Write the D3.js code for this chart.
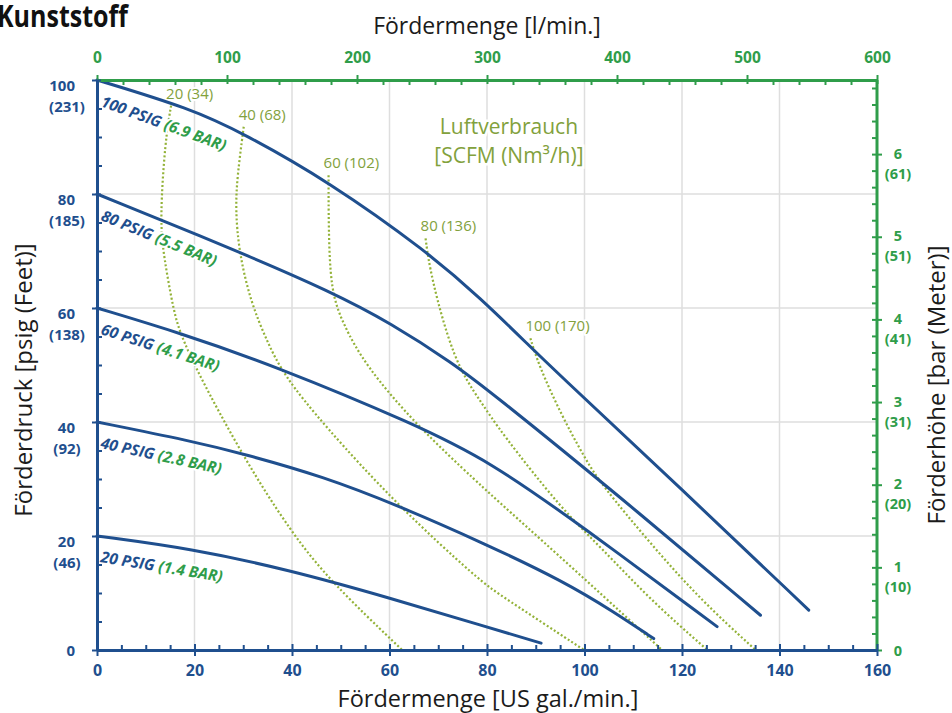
<!DOCTYPE html>
<html><head><meta charset="utf-8">
<script src="https://cdn.jsdelivr.net/npm/d3@7"></script>
<style>body{margin:0;background:#fff;} svg{display:block;font-family:"Open Sans",sans-serif;}</style>
</head><body><svg id="chart" width="952" height="713"></svg>
<script>
// ---------- data ----------
const xTicks = [0,20,40,60,80,100,120,140,160];
const xTopTicks = [0,100,200,300,400,500,600];
const yTicks = [0,20,40,60,80,100];
const yFeet = ["","(46)","(92)","(138)","(185)","(231)"];
const rightTicks = [0,1,2,3,4,5,6];
const rightMeters = ["","(10)","(20)","(31)","(41)","(51)","(61)"];

const psigLevels = [100,80,60,40,20];
const barLevels = ["6.9","5.5","4.1","2.8","1.4"];
const flow100 = [[0,100],[19.2,95],[30.1,90.6],[47.5,82.2],[67.7,69.9],[78.7,61.7],[88.9,53.2],[92.7,50],[119.7,28.4],[146,7]];
const flow80  = [[0,80],[29.1,69.9],[47.9,62.9],[60.2,57.4],[73.2,50.2],[80.7,45.3],[106,27.8],[136.1,6.1]];
const flow60  = [[0,60],[17.1,55.6],[36,50],[65.3,39.6],[80.7,33.0],[99.2,21.9],[127.2,4.1]];
const flow40  = [[0,40],[19.2,36.7],[30.1,34.4],[46.5,30.4],[61.6,25.4],[79.7,18.6],[95.8,12],[106,6.7],[114.2,2]];
const flow20  = [[0,20],[19.2,17.8],[39.7,14],[60.2,9.1],[79.7,4.1],[91.1,1.2]];

const airScfm = [20,40,60,80,100];
const airNm3 = [34,68,102,136,170];
const air20  = [[15.2,95.5],[14,89.5],[12.9,75.4],[13.7,69],[15.8,59.1],[17.1,55.6],[20.2,49.4],[30.1,33.7],[39.7,20.8],[47.9,12],[62.6,0]];
const air40  = [[30.1,91.8],[28.8,83.3],[28.4,77.5],[29.1,69.9],[31.5,61.1],[34.9,54.1],[38.3,48.2],[46.5,39.5],[61.6,25.4],[78.7,12],[82.8,9.6],[99.9,0]];
const air60  = [[47.5,83.3],[47.5,74.6],[47.9,62.9],[50.6,57],[55,50],[65.3,39.6],[78.7,28.9],[82.8,25.7],[99.9,12.6],[115.9,0]];
const air80  = [[67.4,72.2],[68.4,65.8],[73.2,50.6],[78.7,43.6],[82.8,38.3],[95.4,24.6],[103.3,18.1],[113.5,8.8],[125.2,0]];
const air100 = [[88.9,54.7],[90.6,50],[95.1,41.5],[99.9,33.9],[103.3,29.2],[113.5,18.7],[123.8,8.8],[135.1,0]];

// ---------- setup ----------
const blue="#1f4f8e", green="#2f9d4a", olive="#82a13c", dotc="#93b238", gridc="#dedede", dark="#1b1b1b";
const svg = d3.select("#chart");
const x = d3.scaleLinear().domain([0,160]).range([97,877]);
const y = d3.scaleLinear().domain([0,100]).range([650,80]);
const xTop = d3.scaleLinear().domain([0,600]).range([97,877]);
const yBar = d3.scaleLinear().domain([0,100/14.5]).range([650,80]);

// grid
const gGrid = svg.append("g");
gGrid.selectAll("line.v").data(xTicks.filter(d=>d>0&&d<160)).join("line")
  .attr("x1",d=>x(d)).attr("x2",d=>x(d)).attr("y1",y(0)).attr("y2",y(100))
  .attr("stroke",gridc).attr("stroke-width",1.5);
gGrid.selectAll("line.h").data(yTicks.filter(d=>d>0&&d<100)).join("line")
  .attr("y1",d=>y(d)).attr("y2",d=>y(d)).attr("x1",x(0)).attr("x2",x(160))
  .attr("stroke",gridc).attr("stroke-width",1.5);

const flowLine = d3.line().x(d=>x(d[0])).y(d=>y(d[1])).curve(d3.curveBasis);
const airLine = d3.line().x(d=>x(d[0])).y(d=>y(d[1])).curve(d3.curveBasis);

// air consumption dotted lines
const airLines = [air20,air40,air60,air80,air100];
svg.append("g").selectAll("path").data(airLines).join("path")
  .attr("d",airLine).attr("fill","none").attr("stroke",dotc).attr("stroke-width",2.2)
  .attr("stroke-dasharray","2 2.2");

// air labels
svg.append("g").selectAll("text").data(airLines).join("text")
  .attr("x",d=>x(d[0][0])-5).attr("y",d=>y(d[0][1])-7)
  .attr("font-size",15).attr("fill",olive)
  .attr("stroke","#fff").attr("stroke-width",4).attr("paint-order","stroke").attr("stroke-linejoin","round")
  .text((d,i)=>`${airScfm[i]} (${airNm3[i]})`);

// Luftverbrauch annotation
const gAnn = svg.append("g").attr("fill",olive).attr("font-size",21).attr("text-anchor","middle")
  .attr("stroke","#fff").attr("stroke-width",5).attr("paint-order","stroke");
gAnn.append("text").attr("x",x(84.5)).attr("y",y(90.5)).text("Luftverbrauch");
gAnn.append("text").attr("x",x(84.5)).attr("y",y(85.4)).text("[SCFM (Nm³/h)]");

// pressure labels
const flows = [flow100,flow80,flow60,flow40,flow20];
function psiAt(c,g){ for(let i=1;i<c.length;i++){ if(c[i][0]>=g){ const a=c[i-1],b=c[i]; return a[1]+(b[1]-a[1])*(g-a[0])/(b[0]-a[0]); } } return c[c.length-1][1]; }
const gLab = svg.append("g").attr("font-size",15.5).attr("font-weight","bold").attr("font-style","italic");
flows.forEach((c,i)=>{
  const ang = Math.atan2(y(psiAt(c,30))-y(c[0][1]), x(30)-x(0))*180/Math.PI;
  const tx = x(0)+3, ty = y(c[0][1])+26;
  const t = gLab.append("text").attr("transform",`translate(${tx},${ty}) rotate(${ang})`)
    .attr("stroke","#fff").attr("stroke-width",4).attr("paint-order","stroke").attr("stroke-linejoin","round");
  t.append("tspan").attr("fill",blue).text(`${psigLevels[i]} PSIG `);
  t.append("tspan").attr("fill",green).text(`(${barLevels[i]} BAR)`);
});

// pressure curves
svg.append("g").selectAll("path").data(flows).join("path")
  .attr("d",flowLine).attr("fill","none").attr("stroke",blue).attr("stroke-width",3).attr("stroke-linecap","round");

// ---------- axes ----------
function style(g,color,fs){
  g.attr("font-family","'Open Sans',sans-serif").attr("font-size",fs).attr("font-weight","bold");
  g.select(".domain").attr("stroke",color).attr("stroke-width",3);
  g.selectAll(".tick line").attr("stroke",color).attr("stroke-width",2);
  g.selectAll(".tick text").attr("fill",color);
}
const range = (a,b,s)=>d3.range(a,b+1e-9,s);

// top (green)
const gTopMin = svg.append("g").attr("transform",`translate(0,${y(100)})`)
  .call(d3.axisTop(xTop).tickValues(range(0,600,20).filter(v=>v%100)).tickSize(-5).tickSizeOuter(0).tickFormat(""));
gTopMin.select(".domain").remove(); gTopMin.selectAll(".tick line").attr("stroke",green).attr("stroke-width",2);
const gTop = svg.append("g").attr("transform",`translate(0,${y(100)})`)
  .call(d3.axisTop(xTop).tickValues(xTopTicks).tickSize(5).tickSizeOuter(0).tickPadding(12).tickFormat(d3.format("d")));
gTop.selectAll(".tick line").attr("y1",4);
style(gTop,green,15.5);

// right (green)
const gRMin = svg.append("g").attr("transform",`translate(${x(160)},0)`)
  .call(d3.axisRight(yBar).tickValues(range(0,6.8,0.2).filter(v=>Math.abs(v-Math.round(v))>0.01)).tickSize(-5).tickSizeOuter(0).tickFormat(""));
gRMin.select(".domain").remove(); gRMin.selectAll(".tick line").attr("stroke",green).attr("stroke-width",2);
const gR = svg.append("g").attr("transform",`translate(${x(160)},0)`)
  .call(d3.axisRight(yBar).tickValues(rightTicks).tickSize(5).tickSizeOuter(0).tickFormat(d3.format("d")));
gR.select(".domain").attr("d",`M0,${y(0)}V${y(100)}`);
gR.selectAll(".tick line").attr("x1",-5);
gR.selectAll(".tick text").attr("x",21).attr("dy",null).attr("y",d=>d===0?5:4).attr("text-anchor","middle");
gR.selectAll(".tick").filter(d=>rightMeters[rightTicks.indexOf(d)]).append("text")
  .attr("x",21).attr("y",24).attr("text-anchor","middle").text(d=>rightMeters[rightTicks.indexOf(d)]);
style(gR,green,14.5);

// left (blue)
const gLMin = svg.append("g").attr("transform",`translate(${x(0)},0)`)
  .call(d3.axisLeft(y).tickValues(range(0,100,5).filter(v=>v%20)).tickSize(-5).tickSizeOuter(0).tickFormat(""));
gLMin.select(".domain").remove(); gLMin.selectAll(".tick line").attr("stroke",blue).attr("stroke-width",2);
const gL = svg.append("g").attr("transform",`translate(${x(0)},0)`)
  .call(d3.axisLeft(y).tickValues(yTicks).tickSize(5).tickSizeOuter(0).tickPadding(17).tickFormat(d3.format("d")));
gL.selectAll(".tick line").attr("x1",4);
gL.selectAll(".tick text").attr("dy",null).attr("y",d=>d===0?5:10);
gL.selectAll(".tick").filter(d=>yFeet[yTicks.indexOf(d)]).append("text")
  .attr("x",-30).attr("y",31).attr("text-anchor","middle").text(d=>yFeet[yTicks.indexOf(d)]);
style(gL,blue,15);

// bottom (blue)
const gBMin = svg.append("g").attr("transform",`translate(0,${y(0)})`)
  .call(d3.axisBottom(x).tickValues(range(0,160,5).filter(v=>v%20)).tickSize(-5).tickSizeOuter(0).tickFormat(""));
gBMin.select(".domain").remove(); gBMin.selectAll(".tick line").attr("stroke",blue).attr("stroke-width",2);
const gB = svg.append("g").attr("transform",`translate(0,${y(0)})`)
  .call(d3.axisBottom(x).tickValues(xTicks).tickSize(6).tickSizeOuter(0).tickPadding(9).tickFormat(d3.format("d")));
gB.selectAll(".tick line").attr("y1",-6);
style(gB,blue,16);

// ---------- titles ----------
svg.append("text").attr("x",-3).attr("y",27).attr("font-size",30).attr("font-weight","bold")
  .attr("fill","#111").attr("textLength",131).attr("lengthAdjust","spacingAndGlyphs").text("Kunststoff");
svg.append("text").attr("x",(x(0)+x(160))/2).attr("y",34).attr("text-anchor","middle")
  .attr("font-size",23).attr("fill",dark).text("Fördermenge [l/min.]");
svg.append("text").attr("x",488).attr("y",707).attr("text-anchor","middle")
  .attr("font-size",23.5).attr("fill",dark).text("Fördermenge [US gal./min.]");
svg.append("text").attr("transform","translate(32,380) rotate(-90)").attr("text-anchor","middle")
  .attr("font-size",24).attr("fill",dark).text("Förderdruck [psig (Feet)]");
svg.append("text").attr("transform","translate(945,385) rotate(-90)").attr("text-anchor","middle")
  .attr("font-size",24).attr("fill",dark).text("Förderhöhe [bar (Meter)]");
</script></body></html>
